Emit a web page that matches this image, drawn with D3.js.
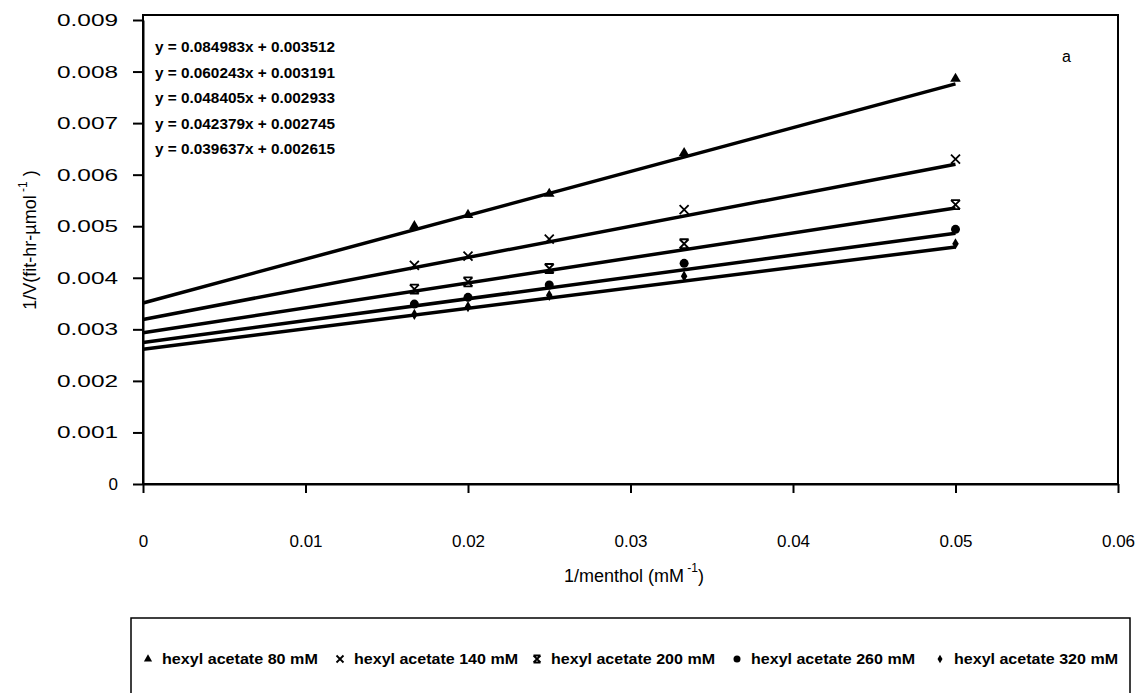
<!DOCTYPE html>
<html>
<head>
<meta charset="utf-8">
<script src="https://cdn.jsdelivr.net/npm/d3@7"></script>
<style>
  body { margin: 0; background: #fff; }
  text { font-family: "Liberation Sans", Arial, sans-serif; fill: #000; }
</style>
</head>
<body>
<script>
// data
const xValues = [0.0167, 0.02, 0.025, 0.0333, 0.05];
const seriesNames = ["hexyl acetate 80 mM", "hexyl acetate 140 mM", "hexyl acetate 200 mM",
                     "hexyl acetate 260 mM", "hexyl acetate 320 mM"];
const s80  = [0.00500, 0.00522, 0.00563, 0.00642, 0.00786];
const s140 = [0.00424, 0.00442, 0.00475, 0.00532, 0.00630];
const s200 = [0.00378, 0.00392, 0.00418, 0.00466, 0.00542];
const s260 = [0.00349, 0.00362, 0.00386, 0.00428, 0.00494];
const s320 = [0.00329, 0.00344, 0.00366, 0.00403, 0.00466];
const slopes = [0.084983, 0.060243, 0.048405, 0.042379, 0.039637];
const intercepts = [0.003512, 0.003191, 0.002933, 0.002745, 0.002615];
const trendX = [0, 0.05];
const xTicks = [0, 0.01, 0.02, 0.03, 0.04, 0.05, 0.06];
const yTicks = [0, 0.001, 0.002, 0.003, 0.004, 0.005, 0.006, 0.007, 0.008, 0.009];

const allSeries = [s80, s140, s200, s260, s320];
const markers = ["triangle", "times", "star", "circle", "diamond"];

const svg = d3.select("body").append("svg")
    .attr("width", 1144)
    .attr("height", 693);

const x = d3.scaleLinear().domain([0, 0.06]).range([143, 1118]);
const y = d3.scaleLinear().domain([0, 0.009]).range([484, 20]);

// plot area border
svg.append("rect")
    .attr("x", 143).attr("y", 15)
    .attr("width", 1118 - 143).attr("height", 484 - 15)
    .attr("fill", "none").attr("stroke", "#000").attr("stroke-width", 2);

// axes
const yAxis = svg.append("g")
    .attr("transform", "translate(143,0)")
    .call(d3.axisLeft(y).tickValues(yTicks).tickSize(10).tickSizeOuter(0).tickPadding(15)
        .tickFormat(d => d === 0 ? "0" : d3.format(".3f")(d)));
yAxis.selectAll("text")
    .style("font-size", "17px")
    .each(function(d) {
        if (d !== 0) d3.select(this).attr("textLength", 61).attr("lengthAdjust", "spacingAndGlyphs");
    });

const xAxis = svg.append("g")
    .attr("transform", "translate(0,484)")
    .call(d3.axisBottom(x).tickValues(xTicks).tickSize(9).tickSizeOuter(0).tickPadding(42)
        .tickFormat(d => d === 0 ? "0" : d3.format(".2f")(d)));
xAxis.selectAll("text").style("font-size", "17px");

[yAxis, xAxis].forEach(g => {
    g.select(".domain").attr("stroke-width", 2);
    g.selectAll(".tick line").attr("stroke-width", 2);
});

// axis titles
const yTitle = svg.append("text")
    .attr("transform", "translate(36,240) rotate(-90)")
    .attr("text-anchor", "middle")
    .style("font-size", "18px");
yTitle.append("tspan").text("1/V(fit-hr-\u00b5mol");
yTitle.append("tspan").attr("dy", -9).style("font-size", "12px").text(" -1");
yTitle.append("tspan").attr("dy", 9).text(" )");

const xTitle = svg.append("text")
    .attr("x", 634).attr("y", 582)
    .attr("text-anchor", "middle")
    .style("font-size", "18px");
xTitle.append("tspan").text("1/menthol (mM");
xTitle.append("tspan").attr("dy", -10).style("font-size", "12px").text(" -1");
xTitle.append("tspan").attr("dy", 10).text(")");

// trendlines
const line = d3.line().x(d => x(d[0])).y(d => y(d[1]));
slopes.forEach((m, i) => {
    svg.append("path")
        .attr("d", line(trendX.map(t => [t, m * t + intercepts[i]])))
        .attr("fill", "none")
        .attr("stroke", "#000")
        .attr("stroke-width", 3.5);
});

function drawMarker(g, type, cx, cy, s) {
    if (type === "triangle") {
        g.append("path").attr("d", d3.symbol(d3.symbolTriangle, s * s * 0.6)())
            .attr("transform", `translate(${cx},${cy})`).attr("fill", "#000");
    } else if (type === "circle") {
        g.append("circle").attr("cx", cx).attr("cy", cy).attr("r", s / 2).attr("fill", "#000");
    } else if (type === "diamond") {
        g.append("path").attr("d", d3.symbol(d3.symbolDiamond, s * s * 0.45)())
            .attr("transform", `translate(${cx},${cy})`).attr("fill", "#000");
    } else if (type === "times") {
        const h = s / 2;
        g.append("path").attr("d", `M${cx - h},${cy - h}L${cx + h},${cy + h}M${cx - h},${cy + h}L${cx + h},${cy - h}`)
            .attr("stroke", "#000").attr("stroke-width", 1.8);
    } else if (type === "star") {
        const h = s / 2;
        g.append("path").attr("d", `M${cx - h},${cy - h}L${cx + h},${cy + h}M${cx - h},${cy + h}L${cx + h},${cy - h}` +
            `M${cx - h},${cy - h}L${cx + h},${cy - h}M${cx - h},${cy + h}L${cx + h},${cy + h}`)
            .attr("stroke", "#000").attr("stroke-width", 1.8);
    }
}

// data markers
allSeries.forEach((vals, i) => {
    const g = svg.append("g");
    vals.forEach((v, j) => drawMarker(g, markers[i], x(xValues[j]), y(v), 9));
});

// equations
slopes.forEach((m, i) => {
    svg.append("text")
        .attr("x", 155).attr("y", 52 + i * 25.5)
        .style("font-size", "14px").style("font-weight", "bold")
        .attr("textLength", 180).attr("lengthAdjust", "spacingAndGlyphs")
        .text(`y = ${d3.format(".6f")(m)}x + ${d3.format(".6f")(intercepts[i])}`);
});

svg.append("text")
    .attr("x", 1062).attr("y", 62)
    .style("font-size", "16px")
    .text("a");

// legend
svg.append("rect")
    .attr("x", 131).attr("y", 618)
    .attr("width", 999).attr("height", 100)
    .attr("fill", "none").attr("stroke", "#000").attr("stroke-width", 1.5);

const legendX = [148, 340, 537, 737, 940];
seriesNames.forEach((name, i) => {
    const lx = legendX[i];
    drawMarker(svg, markers[i], lx, 659, 7);
    svg.append("text")
        .attr("x", lx + 14).attr("y", 664)
        .style("font-size", "14px").style("font-weight", "bold")
        .attr("textLength", name.length * 8.2).attr("lengthAdjust", "spacingAndGlyphs")
        .text(name);
});
</script>
</body>
</html>
